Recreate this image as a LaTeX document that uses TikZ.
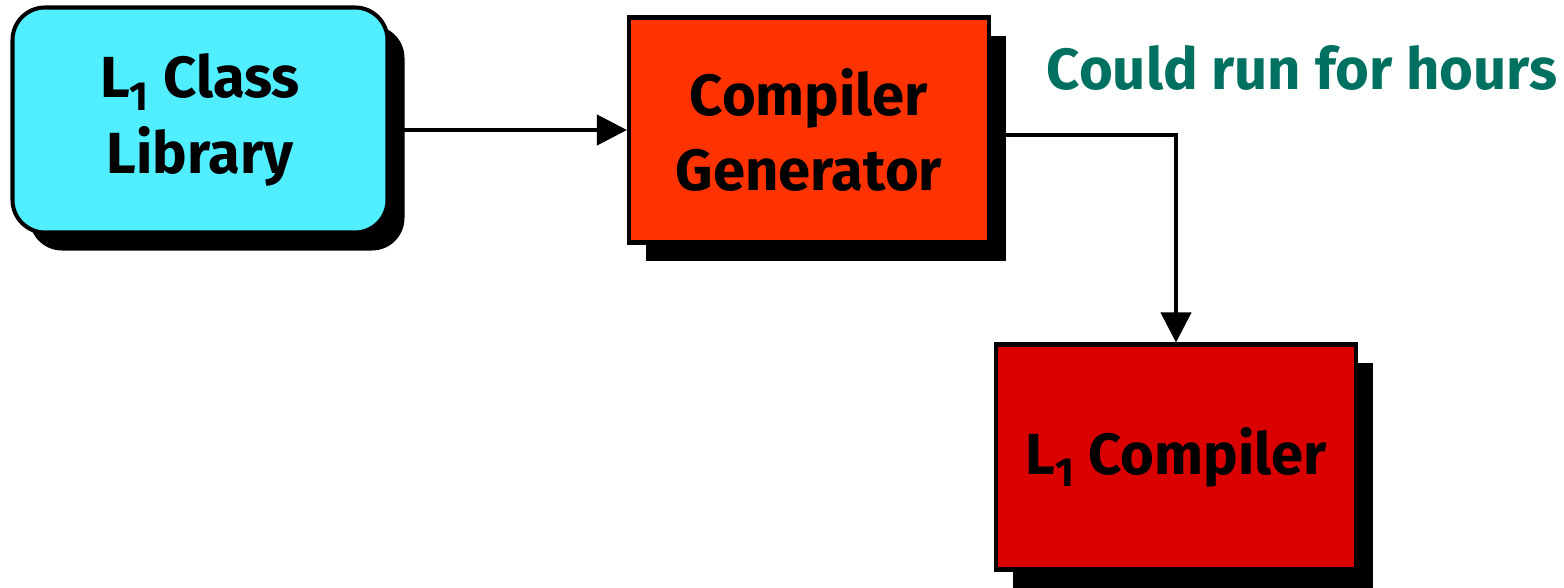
\documentclass[tikz,border=0pt]{standalone}
\usepackage{fontspec}
\setmainfont{Fira Sans}
\usepackage{tikz}
\usetikzlibrary{arrows.meta,shadows,positioning}
\definecolor{libcyan}{HTML}{50EEFF}
\definecolor{genred}{HTML}{FF3300}
\definecolor{compred}{HTML}{DA0000}
\definecolor{noteteal}{HTML}{007060}

\tikzset{
  blk/.style={draw=black,line width=2.3pt,minimum width=7.2cm,minimum height=4.5cm,
    align=center,font=\fontsize{33}{43}\selectfont\bfseries,
    drop shadow={shadow xshift=0.34cm,shadow yshift=-0.36cm,fill=black,opacity=1}},
  flow/.style={line width=2.3pt,-{Triangle[length=0.6cm,width=0.6cm]}}
}

\begin{document}
\begin{tikzpicture}
%\draw[help lines] (0,-12) grid (32,0);
\useasboundingbox (0,0) rectangle (31.28,-11.74);

\node[blk,fill=libcyan,rounded corners=0.65cm,minimum width=7.5cm] (lib) at (4.0,-2.4) {L\textsubscript{1} Class\\Library};
\node[blk,fill=genred] (gen) at (16.18,-2.6) {Compiler\\Generator};
\node[blk,fill=compred] (comp) at (23.52,-9.14) {L\textsubscript{1} Compiler};
\node[text=noteteal,font=\fontsize{33}{40}\selectfont\bfseries] (note) at (26.04,-1.36) {Could run for hours};

\draw[flow] (gen.west -| lib.east) -- (gen.west);
\draw[flow] ([yshift=-0.1cm]gen.east) -| (comp.north);
\end{tikzpicture}
\end{document}
